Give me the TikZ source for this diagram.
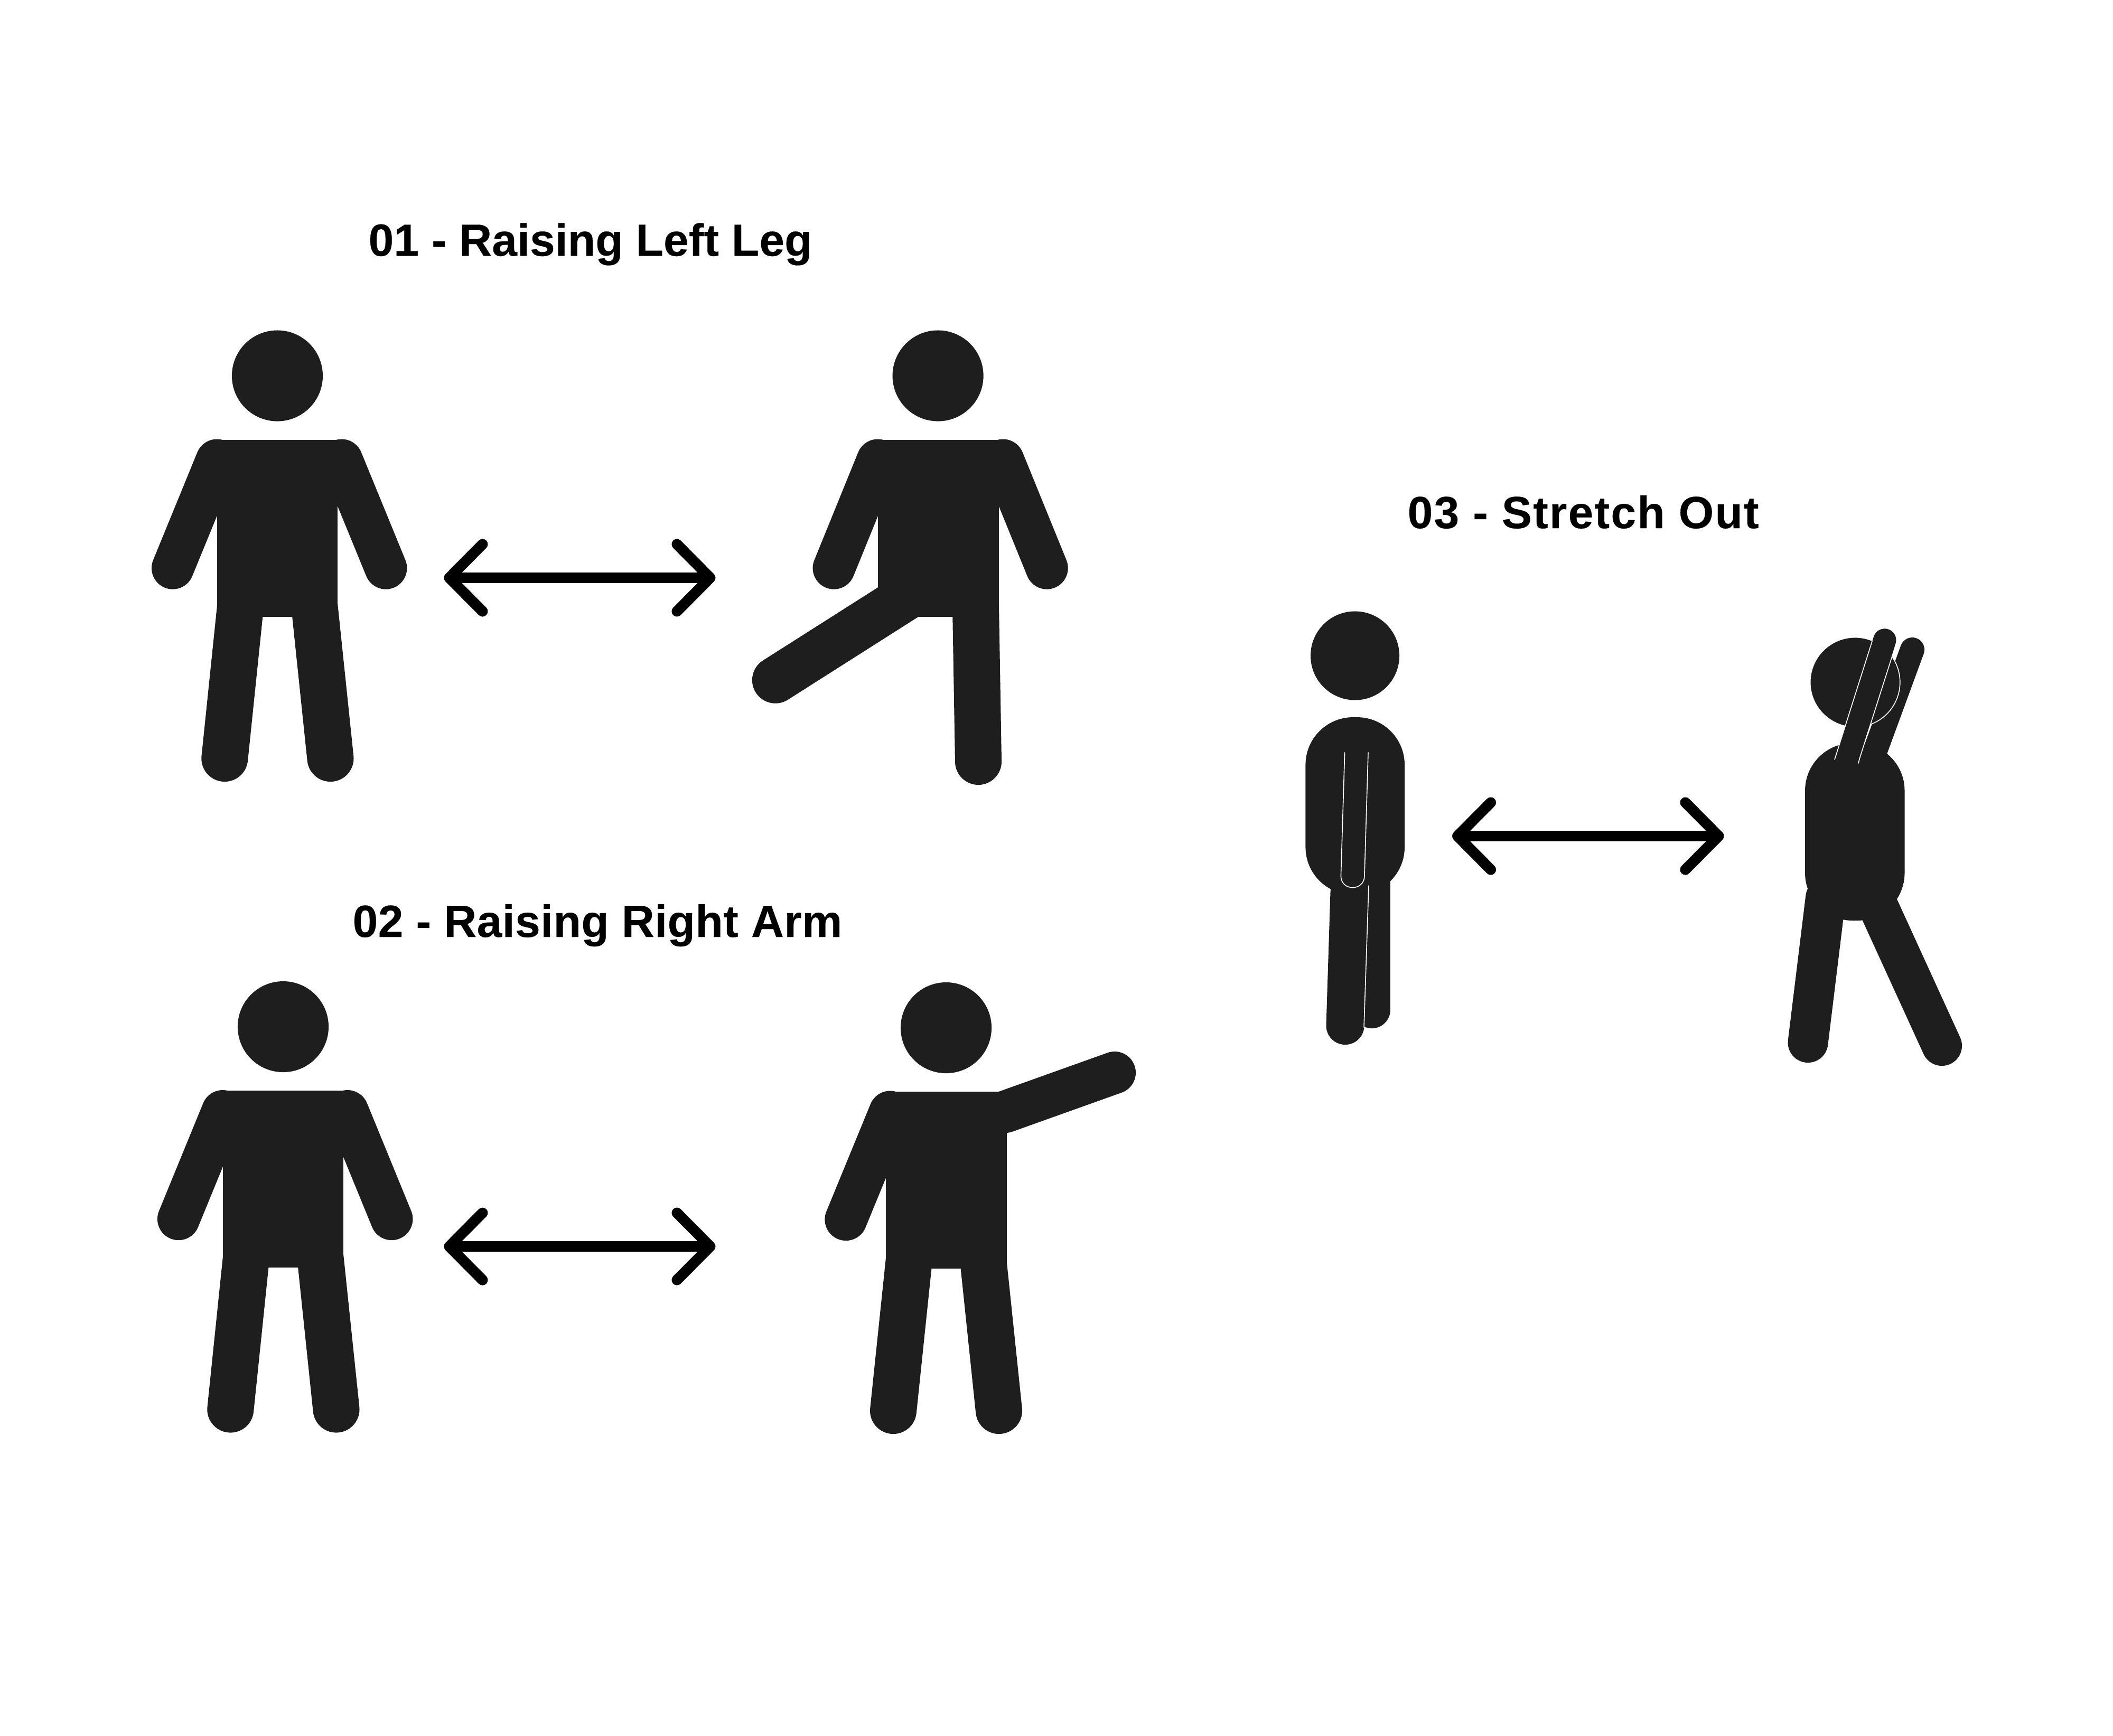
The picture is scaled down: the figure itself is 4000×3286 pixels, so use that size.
\documentclass[tikz,border=0pt]{standalone}
\usepackage{fontspec}
\setmainfont{Liberation Sans}
\usetikzlibrary{arrows.meta}
\definecolor{figcolor}{HTML}{1E1E1E}
\tikzset{
  body/.style={fill=figcolor},
  arm/.style={draw=figcolor,line width=0.8cm,line cap=round},
  leg/.style={draw=figcolor,line width=0.88cm,line cap=round},
  seam/.style={draw=white,line width=0.016cm,line cap=round},
  both way/.style={draw=black,line width=0.2cm,
    {Straight Barb[round,length=0.63cm,width=1.27cm]}-{Straight Barb[round,length=0.63cm,width=1.27cm]}},
  title/.style={anchor=base west,inner sep=0pt,font=\fontsize{24.3}{29}\selectfont\bfseries},
}

\begin{document}
\begin{tikzpicture}[x=0.01cm,y=-0.01cm]
   \useasboundingbox (0,0) rectangle (4000,3286);
   \fill[white] (0,0) rectangle (4000,3286);

   % titles
   \node[title] (titleA) at (697,484.3) {\addfontfeature{FakeBold=0.3,LetterSpace=0.3}01 - Raising Left Leg};
   \node[title] (titleB) at (667,1774) {\addfontfeature{FakeBold=0.3,LetterSpace=0.7}02 - Raising Right Arm};
   \node[title] (titleC) at (2664,1000) {\addfontfeature{FakeBold=0.3,LetterSpace=2.8}03 - Stretch Out};

   % standing figures
   \foreach \dx/\dy in {0/0,11/1232.5}{
   \begin{scope}[shift={(\dx,\dy)}]
     \fill[body] (525,711.5) circle[radius=0.86cm];
     \fill[body] (410.6,832.7) rectangle (639.4,1167.7);
     \draw[arm] (410.6,871.5) -- (327,1075.6);
     \draw[arm] (646.8,871.5) -- (730.4,1075.6);
     \draw[leg] (455,1149) -- (425.3,1436);
     \draw[leg] (595.5,1149) -- (625.5,1436);
   \end{scope}
   }

   % raised leg
   \fill[body] (1775.6,711.5) circle[radius=0.86cm];
   \fill[body] (1661.6,832.7) rectangle (1891,1167.7);
   \draw[arm] (1661.6,871.5) -- (1578.6,1075.6);
   \draw[arm] (1898.7,871.5) -- (1981.7,1075.6);
   \draw[leg] (1760,1102) -- (1467.9,1287.7);
   \draw[leg] (1847,1149) -- (1852,1442);

   % raised arm
   \fill[body] (1791,1946) circle[radius=0.86cm];
   \fill[body] (1677,2067) rectangle (1906,2402);
   \draw[arm] (1685,2105.5) -- (1601.4,2309);
   \draw[arm] (1903,2105) -- (2110,2031);
   \draw[leg] (1721,2384) -- (1691,2671);
   \draw[leg] (1861,2384) -- (1891,2671);

   % stretch, arms down
   \fill[body] (2565,1241.5) circle[radius=0.84cm];
   \fill[body,rounded corners=0.9cm] (2471.4,1358) rectangle (2659,1694);
   \draw[leg,line width=0.7cm] (2597,1660) -- (2597,1912);
   \draw[leg,line width=0.72cm] (2554.5,1690) -- (2546.5,1942);
   \draw[seam] (2591,1677) -- (2582,1945);
   \draw[seam] (2545.6,1425) -- (2538.4,1658) .. controls (2538,1688) and (2583,1688) .. (2583,1658) -- (2590,1425);

   % stretch, arms up
   \draw[arm,line width=0.46cm] (3620,1230) -- (3543,1440);
   \filldraw[body,draw=white,line width=0.016cm] (3511.7,1291.7) circle[radius=0.85cm];
   \fill[body,rounded corners=0.9cm] (3417,1407) rectangle (3605.5,1743);
   \draw[leg,line width=0.76cm] (3456,1700) -- (3422.5,1974);
   \draw[leg,line width=0.76cm] (3548,1700) -- (3676,1980);
   \draw[arm,line width=0.434cm] (3567.7,1212) -- (3495.5,1441);
   \draw[seam] (3544,1214) -- (3473,1438);
   \draw[seam] (3582,1242) -- (3520,1437) -- (3518,1445);

   % double arrows
   \coordinate (arrowAl) at (840.4,1094);
   \coordinate (arrowAr) at (1354.5,1094);
   \coordinate (arrowBl) at (840.4,2360);
   \coordinate (arrowBr) at (1354.5,2360);
   \coordinate (arrowCl) at (2749,1583);
   \coordinate (arrowCr) at (3263.5,1583);
   \draw[both way] (arrowAl) -- (arrowAr);
   \draw[both way] (arrowBl) -- (arrowBr);
   \draw[both way] (arrowCl) -- (arrowCr);
\end{tikzpicture}
\end{document}
